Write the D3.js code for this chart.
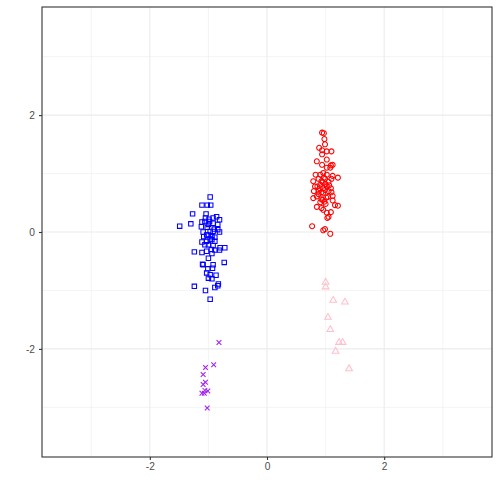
<!DOCTYPE html>
<html><head><meta charset="utf-8">
<script src="https://cdn.jsdelivr.net/npm/d3@7"></script>
<style>body{margin:0;background:#fff}svg{display:block}</style>
</head><body><svg id="c" width="500" height="500"></svg>
<script>
const xTicks = [-2, 0, 2];
const yTicks = [-2, 0, 2];
const xMinor = [-3, -1, 1, 3];
const yMinor = [-3, -1, 1, 3];
const groupNames = ["square", "circle", "triangle", "cross"];
const groupColors = ["#0000FF", "#FF0000", "#FFC0CB", "#A020F0"];

const squarePts = [
 [-0.97,0.60],[-1.11,0.46],[-1.02,0.46],[-0.96,0.46],[-1.27,0.31],[-1.04,0.31],[-0.86,0.26],[-0.81,0.21],
 [-1.05,0.24],[-0.99,0.22],[-0.92,0.24],[-1.11,0.17],[-1.06,0.18],[-1.30,0.14],[-1.49,0.10],[-1.12,0.09],
 [-1.00,0.13],[-0.92,0.15],[-0.84,0.13],[-1.09,0.00],[-0.97,0.01],[-0.92,0.01],[-0.84,0.04],[-0.81,0.00],
 [-1.03,-0.05],[-0.94,-0.08],[-0.89,-0.09],[-1.11,-0.17],[-1.03,-0.16],[-0.94,-0.13],[-0.89,-0.16],[-1.00,-0.22],
 [-0.92,-0.23],[-0.80,-0.27],[-0.72,-0.27],[-0.81,-0.31],[-1.24,-0.34],[-1.11,-0.35],[-1.03,-0.33],[-0.94,-0.37],
 [-0.89,-0.31],[-0.73,-0.52],[-1.10,-0.55],[-0.92,-0.56],[-1.09,-0.56],[-1.01,-0.63],[-1.03,-0.70],[-0.97,-0.73],
 [-0.87,-0.74],[-1.00,-0.79],[-0.94,-0.80],[-1.24,-0.93],[-1.05,-1.00],[-0.89,-0.95],[-0.83,-0.89],[-0.84,-0.92],
 [-0.97,-1.15],[-1.00,-0.05],[-0.97,-0.12],[-1.06,-0.22],[-0.90,0.05],[-1.02,0.08],[-0.95,-0.30],[-1.08,-0.08],
 [-0.98,0.18],[-1.00,-0.45],[-0.93,-0.62]
];
const circlePts = [
 [0.94,1.70],[0.97,1.69],[0.98,1.59],[0.99,1.50],[0.89,1.44],[0.94,1.40],[1.02,1.38],[1.10,1.38],
 [0.94,1.33],[1.02,1.24],[0.85,1.21],[0.94,1.15],[1.09,1.14],[1.12,1.15],[1.02,1.10],[1.08,1.10],
 [0.83,0.98],[0.91,0.98],[0.96,1.01],[1.02,0.98],[1.12,0.96],[1.21,0.93],[0.79,0.87],[0.88,0.91],
 [0.93,0.87],[0.99,0.91],[1.05,0.86],[1.10,0.91],[0.82,0.78],[0.91,0.81],[0.96,0.75],[1.02,0.78],
 [1.09,0.75],[0.80,0.70],[0.88,0.71],[0.96,0.67],[1.05,0.70],[1.10,0.68],[0.79,0.58],[0.85,0.61],
 [0.93,0.56],[1.01,0.59],[1.12,0.62],[0.91,0.51],[0.98,0.52],[1.12,0.54],[0.85,0.43],[0.93,0.41],
 [0.96,0.38],[1.16,0.46],[1.21,0.45],[1.02,0.33],[1.09,0.34],[1.03,0.24],[1.05,0.26],[0.77,0.10],
 [0.96,0.03],[0.99,0.05],[1.08,-0.03],[0.95,0.85],[0.90,0.75],[1.00,0.82],[0.97,0.93],[0.88,0.65],
 [1.04,0.60],[0.93,0.68],[0.99,0.72],[1.06,0.80],[0.86,0.78],[0.95,0.55],[1.00,0.48]
];
const trianglePts = [
 [1.00,-0.86],[1.00,-0.94],[1.13,-1.17],[1.33,-1.20],[1.04,-1.46],[1.08,-1.67],[1.23,-1.89],[1.29,-1.89],
 [1.17,-2.04],[1.40,-2.34]
];
const crossPts = [
 [-0.82,-1.89],[-0.91,-2.27],[-1.05,-2.32],[-1.09,-2.44],[-1.05,-2.57],[-1.09,-2.61],[-1.01,-2.72],
 [-1.07,-2.76],[-1.11,-2.76],[-1.06,-2.71],[-1.02,-3.01]
];

const svg = d3.select("#c");
const L = 42, R = 492, T = 7, B = 457;
const x = d3.scaleLinear().domain([-3.84, 3.84]).range([L, R]);
const y = d3.scaleLinear().domain([-3.85, 3.85]).range([B, T]);

svg.append("rect").attr("x", L).attr("y", T).attr("width", R - L).attr("height", B - T).attr("fill", "#fff");
const grid = svg.append("g");
xMinor.forEach(v => grid.append("line").attr("x1", x(v)).attr("x2", x(v)).attr("y1", T).attr("y2", B).attr("stroke", "#EBEBEB").attr("stroke-width", 0.55));
yMinor.forEach(v => grid.append("line").attr("y1", y(v)).attr("y2", y(v)).attr("x1", L).attr("x2", R).attr("stroke", "#EBEBEB").attr("stroke-width", 0.55));
xTicks.forEach(v => grid.append("line").attr("x1", x(v)).attr("x2", x(v)).attr("y1", T).attr("y2", B).attr("stroke", "#EBEBEB").attr("stroke-width", 1.1));
yTicks.forEach(v => grid.append("line").attr("y1", y(v)).attr("y2", y(v)).attr("x1", L).attr("x2", R).attr("stroke", "#EBEBEB").attr("stroke-width", 1.1));

const RAD = 2.5;
function shapePath(kind) {
  const p = d3.path();
  if (kind === "square") { const h = RAD * 0.886; p.rect(-h, -h, 2 * h, 2 * h); }
  else if (kind === "circle") { p.arc(0, 0, RAD, 0, 2 * Math.PI); p.closePath(); }
  else if (kind === "triangle") {
    const r = 1.555 * RAD, xc = 1.347 * RAD, yc = 0.778 * RAD;
    p.moveTo(0, -r); p.lineTo(xc, yc); p.lineTo(-xc, yc); p.closePath();
  } else {
    const h = RAD * 0.95;
    p.moveTo(-h, -h); p.lineTo(h, h); p.moveTo(-h, h); p.lineTo(h, -h);
  }
  return p.toString();
}

const groups = [squarePts, circlePts, trianglePts, crossPts];
groups.forEach((pts, i) => {
  svg.append("g").selectAll("path").data(pts).join("path")
    .attr("d", shapePath(groupNames[i]))
    .attr("transform", d => `translate(${x(d[0])},${y(d[1])})`)
    .attr("fill", "none").attr("stroke", groupColors[i]).attr("stroke-width", 1.05);
});

svg.append("rect").attr("x", L).attr("y", T).attr("width", R - L).attr("height", B - T)
  .attr("fill", "none").attr("stroke", "#333333").attr("stroke-width", 1.1);

const xa = svg.append("g").attr("transform", `translate(0,${B})`)
  .call(d3.axisBottom(x).tickValues(xTicks).tickSize(3).tickPadding(3).tickFormat(d3.format("d")));
const ya = svg.append("g").attr("transform", `translate(${L},0)`)
  .call(d3.axisLeft(y).tickValues(yTicks).tickSize(3).tickPadding(4).tickFormat(d3.format("d")));
[xa, ya].forEach(a => {
  a.select(".domain").remove();
  a.selectAll(".tick line").attr("stroke", "#333333").attr("stroke-width", 1.1);
  a.selectAll(".tick text").attr("fill", "#4D4D4D").style("font-family", "Liberation Sans, Arial, sans-serif").style("font-size", "10.2px");
});
xa.selectAll(".tick text").text(d => d < 0 ? "-" + Math.abs(d) : d);
ya.selectAll(".tick text").text(d => d < 0 ? "-" + Math.abs(d) : d);
</script></body></html>
